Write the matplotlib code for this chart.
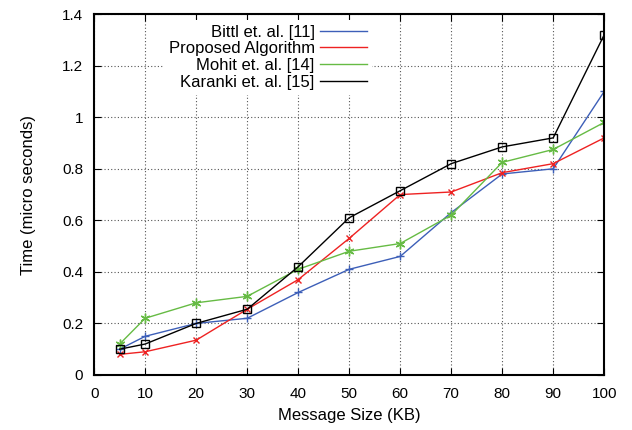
import numpy as np
import matplotlib
matplotlib.use('Agg')
import matplotlib.pyplot as plt

plt.rcParams['font.family'] = ['Liberation Sans', 'DejaVu Sans']

msg_size = [5, 10, 20, 30, 40, 50, 60, 70, 80, 90, 100]
bittl = [0.10, 0.15, 0.20, 0.22, 0.32, 0.41, 0.46, 0.63, 0.78, 0.80, 1.10]
proposed = [0.08, 0.09, 0.135, 0.255, 0.37, 0.53, 0.70, 0.71, 0.785, 0.82, 0.92]
mohit = [0.12, 0.22, 0.28, 0.305, 0.41, 0.48, 0.51, 0.62, 0.825, 0.875, 0.98]
karanki = [0.10, 0.12, 0.20, 0.255, 0.42, 0.61, 0.715, 0.82, 0.885, 0.92, 1.32]
labels = ['Bittl et. al. [11]', 'Proposed Algorithm', 'Mohit et. al. [14]', 'Karanki et. al. [15]']

fig = plt.figure(figsize=(6.32, 4.30), dpi=100)
ax = fig.add_axes([0.149, 0.128, 0.807, 0.839])

ax.plot(msg_size, bittl, color='#3d5fb8', lw=1, marker='+', ms=6, mew=1, label=labels[0])
ax.plot(msg_size, proposed, color='#ee2222', lw=1, marker='x', ms=5, mew=1, label=labels[1])
ax.plot(msg_size, mohit, color='#66bb44', lw=1, marker=(6, 2, 0), ms=7, mew=1, label=labels[2])
ax.plot(msg_size, karanki, color='black', lw=1, marker='s', ms=6, mew=1, mfc='none', label=labels[3])

ax.set_xlim(0, 100)
ax.set_ylim(0, 1.4)
ax.set_xticks(np.arange(0, 101, 10))
ax.set_yticks(np.arange(0, 1.41, 0.2))
ax.set_yticklabels(['0', '0.2', '0.4', '0.6', '0.8', '1', '1.2', '1.4'])
ax.grid(True, color='#555555', ls=(0, (1, 2)), lw=0.8)
ax.tick_params(direction='in', top=True, right=True, labelsize=11, length=5)
ax.tick_params(axis='x', pad=9)
ax.tick_params(axis='y', pad=8)
for s in ax.spines.values():
    s.set_linewidth(1.5)

ax.set_xlabel('Message Size (KB)', fontsize=12, labelpad=5)
ax.set_ylabel('Time (micro seconds)', fontsize=12, labelpad=19)

leg = ax.legend(loc='upper right', bbox_to_anchor=(0.545, 0.985), markerfirst=False, frameon=True,
                fontsize=12, handlelength=2.8, borderaxespad=0.0, borderpad=0.3,
                labelspacing=0.1, handletextpad=0.35)
leg.get_frame().set_edgecolor('none')
leg.get_frame().set_facecolor('white')
leg.get_frame().set_alpha(1)
leg.get_frame().set_boxstyle('square', pad=0)
# right-align text in legend
leg._legend_box.align = 'right'
for h in leg.legend_handles:
    h.set_marker('')

fig.savefig('out.png', dpi=100)
